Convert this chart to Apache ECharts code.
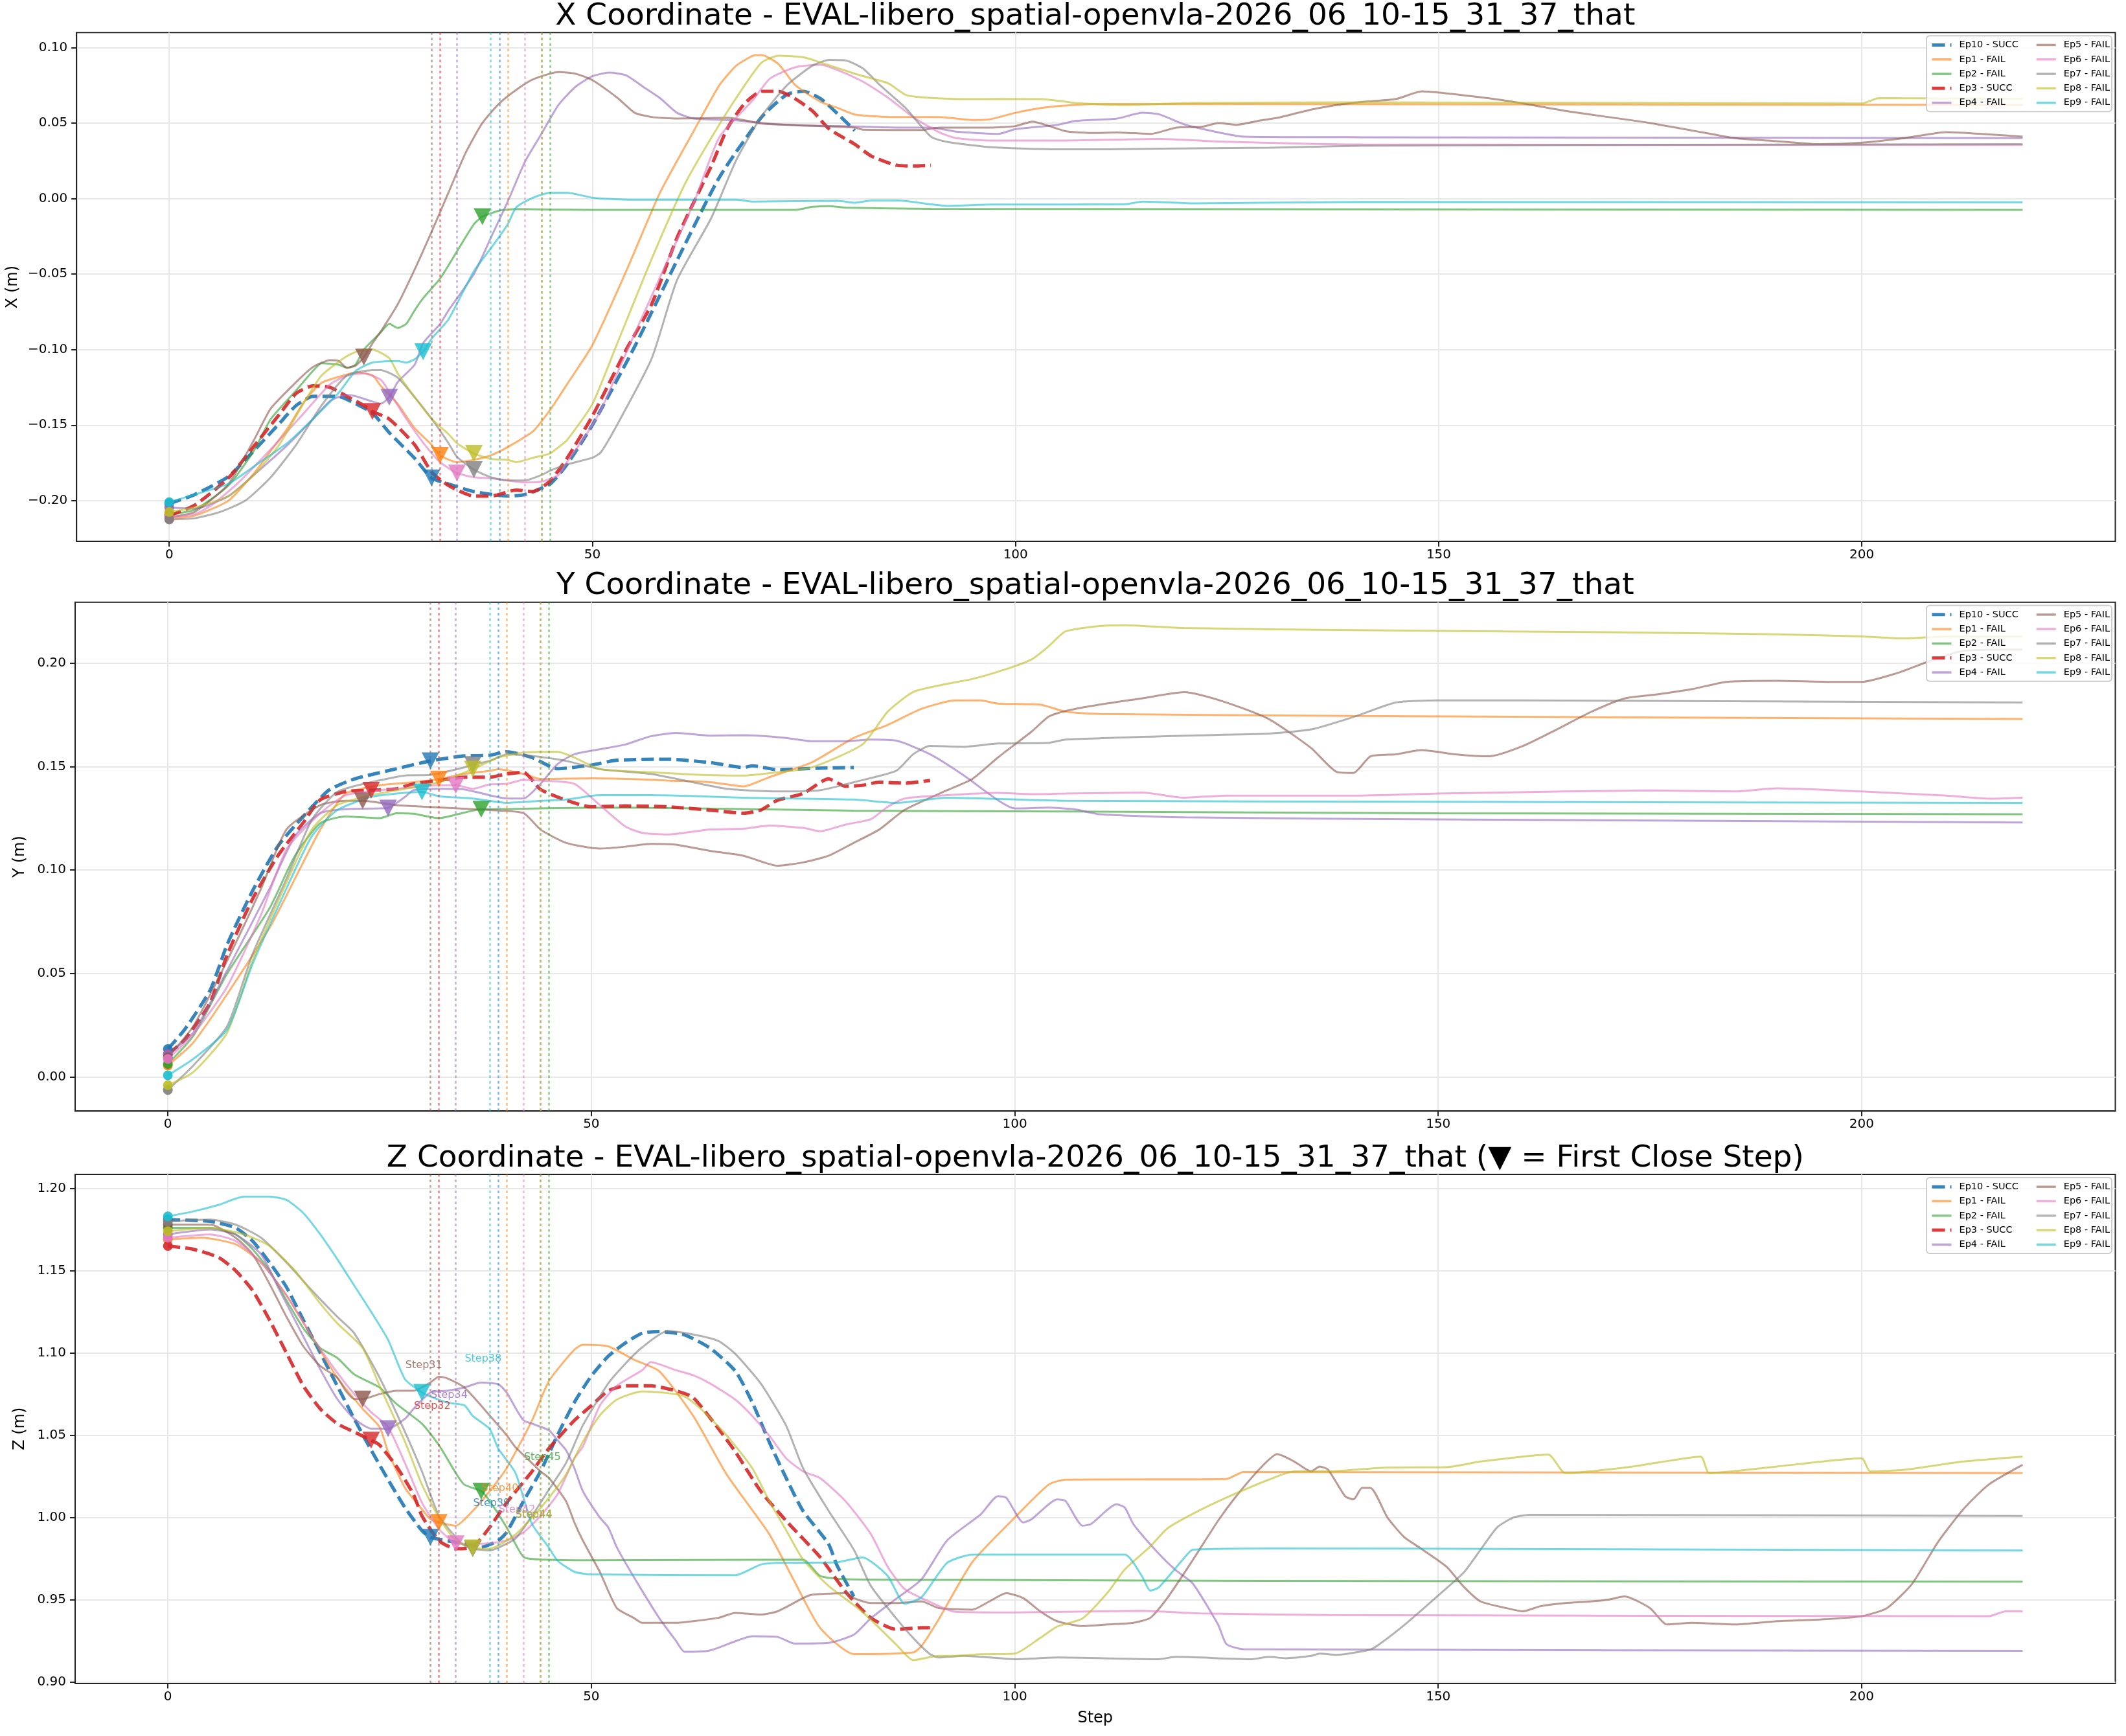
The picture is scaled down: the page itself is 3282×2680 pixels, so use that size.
<!DOCTYPE html>
<html><head><meta charset="utf-8">
<script src="https://cdn.jsdelivr.net/npm/echarts@6/dist/echarts.min.js"></script>
<style>html,body{margin:0;padding:0;background:#fff}#c{width:3282px;height:2680px}</style>
</head><body><div id="c"></div>
<script>
const FONT = 'DejaVu Sans';
const EPISODES = ['Ep10 - SUCC','Ep1 - FAIL','Ep2 - FAIL','Ep3 - SUCC','Ep4 - FAIL','Ep5 - FAIL','Ep6 - FAIL','Ep7 - FAIL','Ep8 - FAIL','Ep9 - FAIL'];
const COLORS = ['#1f77b4','#ff7f0e','#2ca02c','#d62728','#9467bd','#8c564b','#e377c2','#7f7f7f','#bcbd22','#17becf'];
const SUCCESS = [true,false,false,true,false,false,false,false,false,false];
const MARK_STEP = [31,32,37,24,26,23,34,36,36,30];
const CLOSE_STEP = [39,40,45,32,34,31,42,44,44,38];
const STEP_TICKS = [0,50,100,150,200];
const X_TICKS = [-0.20,-0.15,-0.10,-0.05,0.00,0.05,0.10];
const Y_TICKS = [0.00,0.05,0.10,0.15,0.20];
const Z_TICKS = [0.90,0.95,1.00,1.05,1.10,1.15,1.20];

// ---------- X coordinate ----------
const X_EP10 = [[0,-0.202],[3,-0.196],[7,-0.184],[10,-0.167],[13,-0.149],[15,-0.137],[17,-0.131],[20,-0.131],[21,-0.133],[24,-0.142],[26,-0.155],[29,-0.172],[31,-0.185],[33,-0.189],[36,-0.194],[40,-0.197],[42,-0.196],[45,-0.189],[47,-0.176],[50,-0.150],[55,-0.098],[60,-0.041],[65,0.014],[70,0.054],[73,0.069],[75,0.071],[77,0.066],[79,0.056],[81,0.045]];
const X_EP1 = [[0,-0.212],[3,-0.210],[7,-0.200],[10,-0.182],[12,-0.167],[14,-0.152],[16,-0.134],[18,-0.122],[21,-0.1165],[22,-0.115],[24,-0.117],[25,-0.124],[27,-0.136],[29,-0.152],[31,-0.163],[32,-0.170],[34,-0.1745],[36,-0.173],[38,-0.170],[40,-0.1645],[43,-0.154],[45,-0.140],[47,-0.123],[50,-0.097],[54,-0.048],[58,0.004],[62,0.045],[65,0.075],[67,0.088],[69,0.0946],[70,0.095],[72,0.089],[74,0.075],[77,0.064],[79,0.060],[81,0.0557],[85,0.054],[91,0.054],[95,0.052],[97,0.0525],[100,0.0568],[103,0.060],[107,0.062],[111,0.0626],[219,0.062]];
const X_EP2 = [[0,-0.209],[3,-0.206],[7,-0.190],[10,-0.167],[12,-0.146],[15,-0.127],[17,-0.114],[18,-0.109],[20,-0.110],[21,-0.112],[22,-0.110],[23,-0.100],[25,-0.0885],[26,-0.083],[27,-0.0857],[28,-0.083],[29,-0.074],[30,-0.066],[32,-0.053],[34,-0.035],[36,-0.017],[37,-0.012],[39,-0.008],[41,-0.007],[50,-0.0075],[74,-0.0075],[76,-0.0055],[78,-0.005],[80,-0.006],[90,-0.0068],[219,-0.0075]];
const X_EP3 = [[0,-0.210],[3,-0.203],[7,-0.185],[10,-0.164],[13,-0.143],[15,-0.129],[17,-0.124],[19,-0.125],[21,-0.131],[23,-0.137],[24,-0.141],[26,-0.146],[29,-0.163],[31,-0.181],[33,-0.190],[36,-0.197],[38,-0.197],[41,-0.193],[43,-0.194],[45,-0.187],[47,-0.172],[50,-0.144],[54,-0.100],[57,-0.070],[60,-0.026],[64,0.021],[66,0.047],[68,0.063],[70,0.071],[72,0.071],[74,0.066],[76,0.058],[78,0.046],[81,0.036],[83,0.028],[86,0.022],[88,0.0216],[90,0.022]];
const X_EP4 = [[0,-0.2046],[3,-0.2053],[7,-0.197],[10,-0.183],[14,-0.163],[17,-0.146],[19,-0.134],[21,-0.130],[22,-0.1308],[24,-0.1344],[25,-0.1358],[26,-0.1315],[27,-0.1215],[29,-0.110],[30,-0.0957],[32,-0.083],[33,-0.074],[36,-0.050],[38,-0.026],[40,-0.002],[42,0.024],[44,0.043],[46,0.062],[48,0.074],[50,0.081],[52,0.0834],[54,0.0816],[56,0.074],[58,0.0665],[60,0.0568],[62,0.053],[67,0.0518],[70,0.050],[74,0.0486],[79,0.048],[86,0.047],[90,0.047],[93,0.0443],[98,0.0428],[100,0.046],[105,0.0488],[107,0.0514],[112,0.053],[115,0.0568],[117,0.0557],[120,0.049],[124,0.0438],[127,0.041],[141,0.0406],[219,0.040]];
const X_EP5 = [[0,-0.211],[3,-0.2075],[7,-0.189],[10,-0.160],[12,-0.139],[15,-0.1215],[17,-0.1115],[19,-0.107],[20,-0.1075],[21,-0.112],[22,-0.1107],[23,-0.105],[24,-0.096],[25,-0.088],[27,-0.070],[29,-0.047],[31,-0.022],[33,0.004],[35,0.030],[37,0.050],[39,0.063],[41,0.072],[43,0.079],[46,0.0838],[48,0.0827],[50,0.0784],[53,0.0665],[55,0.0568],[57,0.054],[60,0.053],[66,0.0535],[68,0.0518],[70,0.0497],[74,0.0486],[81,0.047],[82,0.0456],[89,0.0454],[91,0.047],[97,0.047],[100,0.048],[102,0.051],[104,0.048],[106,0.0445],[109,0.0434],[112,0.0438],[116,0.0428],[119,0.047],[122,0.0475],[124,0.050],[126,0.0488],[129,0.0518],[131,0.0535],[135,0.059],[138,0.062],[141,0.064],[145,0.066],[148,0.071],[155,0.067],[160,0.063],[165,0.058],[170,0.054],[175,0.050],[180,0.045],[185,0.040],[190,0.038],[195,0.036],[200,0.037],[205,0.040],[210,0.044],[215,0.0425],[219,0.041]];
const X_EP6 = [[0,-0.211],[3,-0.209],[5,-0.203],[8,-0.189],[12,-0.166],[16,-0.1415],[19,-0.123],[21,-0.1172],[23,-0.1158],[25,-0.120],[26,-0.128],[28,-0.1458],[30,-0.1616],[32,-0.1745],[34,-0.1817],[36,-0.1845],[38,-0.1852],[40,-0.1867],[42,-0.188],[44,-0.1874],[46,-0.183],[47,-0.1745],[49,-0.1587],[51,-0.140],[54,-0.102],[58,-0.052],[62,-0.0026],[65,0.0406],[69,0.0654],[71,0.0795],[74,0.087],[77,0.0886],[79,0.085],[82,0.0773],[85,0.0665],[88,0.0535],[91,0.0438],[93,0.040],[97,0.0384],[105,0.0384],[117,0.0395],[124,0.0378],[141,0.0358],[219,0.0355]];
const X_EP7 = [[0,-0.2125],[3,-0.2117],[6,-0.2075],[9,-0.200],[12,-0.1845],[15,-0.163],[18,-0.137],[21,-0.1172],[24,-0.1136],[25,-0.1136],[27,-0.1186],[29,-0.1315],[31,-0.1458],[33,-0.162],[34,-0.171],[36,-0.1795],[38,-0.1845],[40,-0.1867],[42,-0.1867],[44,-0.183],[45,-0.1802],[47,-0.176],[50,-0.1716],[51,-0.168],[53,-0.149],[57,-0.106],[60,-0.054],[64,-0.0134],[67,0.0255],[70,0.0546],[73,0.075],[76,0.088],[78,0.0918],[80,0.0914],[82,0.086],[84,0.075],[87,0.060],[90,0.041],[92,0.0374],[95,0.0352],[97,0.034],[105,0.0326],[111,0.0326],[117,0.033],[130,0.0337],[141,0.035],[219,0.036]];
const X_EP8 = [[0,-0.2075],[3,-0.2046],[7,-0.197],[10,-0.183],[13,-0.163],[16,-0.1344],[18,-0.1172],[21,-0.1043],[23,-0.100],[24,-0.100],[26,-0.1057],[27,-0.1158],[29,-0.1315],[31,-0.1458],[33,-0.156],[34,-0.162],[36,-0.1688],[38,-0.1724],[40,-0.173],[41,-0.1745],[43,-0.1716],[45,-0.1688],[46,-0.1646],[47,-0.160],[50,-0.136],[53,-0.095],[57,-0.040],[61,0.0104],[65,0.049],[68,0.075],[70,0.090],[72,0.0946],[75,0.0935],[77,0.090],[81,0.0827],[83,0.0795],[85,0.0762],[87,0.0687],[89,0.067],[94,0.0658],[98,0.066],[103,0.0658],[105,0.0648],[107,0.0633],[113,0.062],[121,0.0633],[141,0.0637],[200,0.063],[202,0.0665],[219,0.066]];
const X_EP9 = [[0,-0.201],[3,-0.196],[7,-0.1888],[10,-0.1774],[14,-0.1616],[17,-0.1458],[20,-0.1287],[22,-0.1143],[24,-0.1086],[27,-0.1075],[28,-0.1086],[29,-0.1064],[30,-0.1014],[31,-0.0928],[33,-0.080],[36,-0.048],[38,-0.033],[40,-0.017],[41,-0.0058],[43,0.0006],[45,0.0039],[47,0.0039],[50,0.0006],[54,-0.0007],[67,-0.0007],[69,-0.002],[79,-0.0015],[81,-0.0028],[83,-0.0013],[86,-0.0013],[92,-0.0048],[97,-0.004],[113,-0.0037],[115,-0.002],[121,-0.0032],[141,-0.0022],[219,-0.0025]];

// ---------- Y coordinate ----------
const Y_EP10 = [[0,0.0135],[2,0.023],[5,0.042],[7,0.064],[10,0.090],[13,0.1116],[16,0.126],[19,0.1386],[22,0.144],[27,0.149],[31,0.1528],[35,0.1552],[38,0.1555],[40,0.1572],[43,0.1544],[46,0.149],[50,0.1508],[53,0.1531],[59,0.1536],[64,0.152],[68,0.1496],[69,0.1504],[72,0.1485],[77,0.1493],[81,0.1496]];
const Y_EP1 = [[0,0.0055],[3,0.0166],[7,0.040],[12,0.072],[15,0.0958],[18,0.1196],[21,0.137],[25,0.141],[29,0.1425],[32,0.144],[35,0.1465],[38,0.148],[39,0.1488],[42,0.1465],[44,0.144],[50,0.1444],[55,0.144],[59,0.1433],[64,0.1425],[68,0.1405],[71,0.1449],[76,0.152],[81,0.1639],[85,0.1702],[89,0.178],[93,0.182],[96,0.182],[98,0.1805],[103,0.180],[106,0.1766],[110,0.1755],[140,0.1745],[219,0.173]];
const Y_EP2 = [[0,0.0063],[3,0.0198],[7,0.050],[12,0.0815],[15,0.1069],[18,0.1227],[21,0.1259],[25,0.1251],[27,0.1275],[29,0.1272],[32,0.1251],[35,0.1278],[37,0.1294],[40,0.1295],[46,0.130],[54,0.1302],[68,0.1295],[81,0.1287],[106,0.1283],[150,0.1275],[219,0.127]];
const Y_EP3 = [[0,0.011],[2,0.018],[5,0.036],[7,0.059],[10,0.086],[13,0.107],[16,0.123],[18,0.134],[21,0.138],[24,0.1386],[27,0.1393],[29,0.1417],[32,0.1433],[35,0.1449],[38,0.1449],[40,0.1465],[42,0.1473],[44,0.139],[47,0.1338],[50,0.1306],[54,0.131],[59,0.1306],[64,0.129],[68,0.1275],[70,0.129],[72,0.1338],[75,0.137],[78,0.1441],[80,0.1405],[82,0.141],[84,0.1425],[87,0.142],[90,0.1433]];
const Y_EP4 = [[0,0.011],[3,0.0214],[7,0.0515],[12,0.091],[15,0.1164],[18,0.1275],[21,0.1295],[25,0.1298],[26,0.130],[28,0.1354],[29,0.1386],[32,0.1393],[35,0.139],[38,0.1362],[40,0.1346],[42,0.1346],[44,0.1417],[46,0.1512],[48,0.156],[51,0.1584],[54,0.1607],[57,0.1647],[60,0.1663],[64,0.165],[68,0.1652],[73,0.1639],[76,0.1623],[80,0.1623],[83,0.1631],[86,0.1626],[90,0.156],[94,0.1457],[98,0.1338],[100,0.1298],[104,0.1302],[107,0.1294],[110,0.127],[120,0.1255],[150,0.1245],[219,0.123]];
const Y_EP5 = [[0,0.0095],[3,0.0245],[7,0.0562],[11,0.091],[14,0.1196],[18,0.1314],[21,0.1335],[23,0.1335],[27,0.1314],[32,0.1303],[38,0.129],[42,0.1275],[44,0.1196],[47,0.1132],[51,0.1104],[54,0.1113],[57,0.1127],[60,0.1123],[64,0.1093],[68,0.1069],[72,0.1021],[75,0.1037],[78,0.1069],[81,0.1132],[84,0.1196],[87,0.1291],[92,0.1386],[95,0.1441],[98,0.1544],[102,0.167],[104,0.1742],[106,0.1769],[110,0.180],[115,0.183],[120,0.186],[125,0.181],[130,0.173],[135,0.159],[138,0.1475],[140,0.147],[142,0.155],[145,0.156],[148,0.158],[152,0.156],[156,0.155],[160,0.160],[164,0.168],[168,0.1764],[172,0.183],[176,0.185],[180,0.1875],[184,0.191],[190,0.1915],[196,0.191],[200,0.191],[204,0.195],[208,0.201],[212,0.206],[219,0.2066]];
const Y_EP6 = [[0,0.0087],[3,0.0206],[7,0.0436],[11,0.0784],[14,0.110],[18,0.1275],[21,0.1362],[25,0.1386],[29,0.140],[32,0.141],[34,0.141],[36,0.1393],[38,0.1414],[40,0.1417],[42,0.1436],[44,0.1433],[48,0.1417],[51,0.1314],[54,0.1211],[56,0.118],[59,0.1172],[64,0.1196],[68,0.120],[71,0.1215],[75,0.1204],[77,0.1188],[80,0.122],[83,0.1246],[85,0.1306],[87,0.1346],[92,0.1362],[98,0.1373],[102,0.1367],[106,0.137],[115,0.1375],[120,0.135],[125,0.136],[140,0.136],[150,0.137],[165,0.138],[175,0.1385],[185,0.138],[190,0.1395],[200,0.138],[210,0.136],[215,0.1345],[219,0.135]];
const Y_EP7 = [[0,-0.0063],[3,0.0055],[7,0.0245],[10,0.0594],[14,0.0958],[17,0.1243],[20,0.1378],[24,0.1425],[28,0.1457],[31,0.146],[35,0.1496],[36,0.151],[38,0.1528],[40,0.156],[43,0.1552],[47,0.1528],[51,0.1488],[57,0.1465],[61,0.1433],[66,0.1393],[72,0.138],[77,0.1386],[81,0.1425],[86,0.148],[88,0.156],[90,0.160],[94,0.1596],[98,0.1612],[104,0.1615],[106,0.1631],[120,0.165],[130,0.166],[135,0.168],[140,0.174],[145,0.181],[150,0.182],[160,0.182],[219,0.181]];
const Y_EP8 = [[0,-0.004],[3,0.0023],[7,0.0214],[10,0.0562],[14,0.094],[17,0.1196],[20,0.1314],[24,0.1362],[28,0.1393],[32,0.1425],[36,0.1488],[39,0.1544],[42,0.1568],[46,0.1572],[48,0.1544],[51,0.1488],[57,0.1473],[62,0.1462],[68,0.1457],[72,0.1473],[76,0.1496],[82,0.1607],[85,0.1766],[88,0.1861],[92,0.190],[95,0.1924],[99,0.1972],[102,0.2019],[104,0.2082],[106,0.2154],[110,0.218],[113,0.2184],[120,0.217],[140,0.216],[170,0.215],[190,0.214],[200,0.213],[205,0.212],[210,0.213],[219,0.213]];
const Y_EP9 = [[0,0.0008],[3,0.0087],[7,0.0229],[10,0.0546],[14,0.091],[17,0.1164],[20,0.129],[24,0.1354],[27,0.137],[30,0.1378],[32,0.1357],[36,0.1346],[40,0.1325],[44,0.1335],[47,0.1341],[51,0.1362],[57,0.1362],[68,0.135],[81,0.1341],[86,0.1325],[92,0.135],[106,0.1335],[150,0.133],[219,0.1325]];

// ---------- Z coordinate ----------
const Z_EP10 = [[0,1.181],[5,1.180],[8,1.176],[10,1.168],[12,1.155],[14,1.140],[16,1.120],[18,1.100],[20,1.080],[22,1.060],[24,1.041],[26,1.023],[28,1.006],[30,0.992],[31,0.988],[34,0.985],[37,0.982],[39,0.986],[40,0.991],[42,1.010],[44,1.028],[46,1.050],[48,1.070],[50,1.086],[52,1.098],[54,1.106],[56,1.112],[58,1.113],[61,1.111],[64,1.103],[67,1.089],[69,1.070],[71,1.046],[73,1.024],[75,1.004],[78,0.984],[79,0.971],[81,0.952]];
const Z_EP1 = [[0,1.169],[4,1.170],[8,1.166],[11,1.155],[14,1.135],[17,1.110],[20,1.085],[23,1.066],[25,1.055],[26,1.040],[28,1.018],[30,1.005],[31,0.999],[32,0.997],[34,0.995],[36,1.004],[38,1.016],[40,1.030],[43,1.059],[45,1.083],[48,1.102],[49,1.105],[52,1.104],[55,1.096],[58,1.089],[62,1.062],[66,1.026],[71,0.990],[74,0.961],[77,0.933],[81,0.917],[88,0.918],[89,0.922],[91,0.938],[95,0.973],[100,1.000],[104,1.020],[106,1.023],[125,1.0234],[127,1.0276],[219,1.027]];
const Z_EP2 = [[0,1.176],[5,1.176],[8,1.172],[10,1.163],[12,1.150],[14,1.132],[16,1.115],[18,1.103],[20,1.097],[22,1.087],[25,1.079],[27,1.069],[30,1.057],[32,1.044],[34,1.027],[35,1.020],[37,1.016],[38,1.010],[40,0.994],[42,0.976],[44,0.9745],[50,0.974],[75,0.9744],[77,0.9645],[80,0.9625],[100,0.962],[130,0.9615],[219,0.961]];
const Z_EP3 = [[0,1.165],[3,1.163],[6,1.158],[8,1.150],[10,1.138],[12,1.120],[14,1.100],[16,1.080],[18,1.066],[20,1.057],[22,1.052],[24,1.047],[25,1.044],[27,1.031],[29,1.014],[30,1.001],[32,0.986],[34,0.981],[36,0.982],[38,0.994],[40,1.009],[43,1.028],[45,1.042],[48,1.059],[50,1.068],[52,1.077],[54,1.080],[57,1.080],[60,1.077],[62,1.073],[65,1.054],[67,1.040],[70,1.016],[73,0.998],[77,0.976],[80,0.955],[83,0.939],[86,0.932],[89,0.933],[90,0.933]];
const Z_EP4 = [[0,1.172],[5,1.175],[8,1.172],[11,1.160],[13,1.140],[15,1.120],[18,1.090],[20,1.072],[22,1.060],[24,1.054],[26,1.054],[28,1.060],[29,1.066],[31,1.076],[33,1.077],[35,1.079],[37,1.082],[39,1.081],[40,1.076],[41,1.067],[42,1.059],[43,1.057],[45,1.053],[46,1.047],[47,1.041],[48,1.030],[49,1.016],[51,1.000],[52,0.994],[53,0.982],[55,0.964],[58,0.939],[60,0.925],[61,0.9184],[64,0.9192],[67,0.9248],[69,0.9278],[72,0.9274],[74,0.9234],[78,0.9238],[81,0.9288],[83,0.9387],[86,0.9506],[89,0.9625],[92,0.986],[96,1.002],[98,1.013],[99,1.012],[101,0.997],[102,0.999],[105,1.011],[106,1.010],[108,0.995],[109,0.996],[112,1.008],[113,1.006],[114,0.996],[117,0.978],[119,0.968],[121,0.960],[124,0.935],[125,0.923],[127,0.920],[219,0.919]];
const Z_EP5 = [[0,1.178],[5,1.178],[8,1.170],[10,1.160],[12,1.142],[14,1.122],[16,1.104],[18,1.092],[20,1.085],[21,1.077],[22,1.072],[23,1.072],[25,1.075],[27,1.077],[29,1.077],[31,1.082],[32,1.0856],[33,1.0846],[35,1.079],[38,1.062],[40,1.050],[41,1.043],[43,1.033],[44,1.028],[45,1.024],[47,1.010],[48,0.997],[49,0.986],[51,0.967],[53,0.945],[55,0.939],[56,0.936],[60,0.936],[62,0.937],[65,0.939],[67,0.942],[70,0.941],[72,0.943],[75,0.951],[76,0.953],[80,0.954],[81,0.951],[83,0.948],[86,0.948],[89,0.949],[91,0.945],[95,0.944],[97,0.949],[99,0.954],[101,0.951],[103,0.943],[105,0.937],[108,0.934],[111,0.935],[114,0.936],[116,0.939],[118,0.951],[121,0.974],[124,0.998],[126,1.012],[129,1.030],[131,1.0385],[133,1.034],[135,1.028],[136,1.031],[137,1.029],[139,1.013],[140,1.011],[141,1.018],[142,1.018],[144,1.000],[146,0.988],[148,0.981],[151,0.970],[153,0.958],[155,0.949],[158,0.945],[160,0.943],[162,0.946],[165,0.948],[168,0.949],[170,0.950],[172,0.952],[175,0.945],[177,0.935],[180,0.936],[185,0.935],[190,0.937],[195,0.938],[200,0.940],[203,0.945],[206,0.960],[209,0.985],[212,1.005],[215,1.020],[219,1.032]];
const Z_EP6 = [[0,1.170],[5,1.172],[8,1.168],[11,1.155],[14,1.135],[17,1.110],[20,1.088],[22,1.075],[24,1.064],[26,1.055],[28,1.033],[30,1.009],[32,0.993],[33,0.988],[34,0.984],[37,0.984],[40,0.986],[42,0.991],[44,1.001],[46,1.014],[48,1.036],[49,1.043],[51,1.068],[53,1.080],[56,1.0895],[57,1.0944],[60,1.0895],[62,1.0865],[64,1.0815],[67,1.0716],[69,1.0617],[71,1.0498],[73,1.036],[75,1.028],[77,1.024],[80,1.010],[83,0.990],[85,0.970],[87,0.9565],[90,0.9486],[93,0.9427],[100,0.9423],[115,0.9433],[122,0.9417],[137,0.9407],[215,0.940],[217,0.943],[219,0.943]];
const Z_EP7 = [[0,1.180],[5,1.181],[8,1.178],[11,1.170],[14,1.155],[17,1.138],[20,1.122],[22,1.112],[25,1.085],[28,1.052],[30,1.028],[32,1.001],[34,0.988],[35,0.983],[36,0.981],[38,0.980],[39,0.9816],[41,0.987],[43,1.001],[45,1.017],[47,1.033],[49,1.056],[52,1.0815],[54,1.0934],[56,1.1034],[59,1.1133],[62,1.1113],[65,1.1073],[67,1.0994],[70,1.0815],[73,1.0558],[75,1.030],[78,1.0042],[81,0.9804],[83,0.9585],[86,0.9387],[88,0.9268],[90,0.9169],[91,0.9149],[94,0.9159],[100,0.9139],[105,0.9149],[117,0.9139],[119,0.9153],[128,0.9139],[130,0.9153],[132,0.9145],[135,0.9159],[136,0.9173],[138,0.9165],[142,0.9198],[143,0.9228],[146,0.9347],[150,0.9526],[153,0.9665],[155,0.9804],[157,0.9942],[159,1.0002],[161,1.0016],[219,1.001]];
const Z_EP8 = [[0,1.174],[5,1.176],[9,1.172],[12,1.165],[15,1.150],[18,1.130],[20,1.118],[23,1.103],[25,1.080],[28,1.046],[30,1.020],[32,1.000],[34,0.986],[36,0.9816],[38,0.981],[39,0.983],[41,0.9895],[43,1.000],[45,1.012],[47,1.026],[49,1.046],[51,1.062],[53,1.0716],[56,1.0766],[59,1.0756],[61,1.0736],[63,1.0657],[66,1.0498],[69,1.030],[71,1.0101],[73,0.9923],[75,0.9744],[78,0.9585],[82,0.9427],[86,0.9228],[88,0.9133],[91,0.9159],[93,0.9159],[96,0.9169],[100,0.9173],[103,0.9268],[105,0.9337],[108,0.9387],[111,0.9546],[113,0.9685],[116,0.9824],[118,0.9933],[121,1.0022],[125,1.0121],[130,1.023],[133,1.028],[137,1.028],[140,1.029],[144,1.0304],[151,1.0306],[155,1.034],[163,1.0383],[165,1.027],[173,1.031],[181,1.037],[182,1.027],[190,1.031],[200,1.036],[201,1.028],[205,1.029],[212,1.034],[219,1.037]];
const Z_EP9 = [[0,1.183],[3,1.186],[6,1.190],[9,1.195],[12,1.195],[14,1.193],[16,1.185],[18,1.172],[20,1.157],[22,1.141],[24,1.125],[26,1.108],[28,1.084],[30,1.076],[31,1.0735],[33,1.0698],[35,1.0682],[36,1.0617],[38,1.0538],[39,1.042],[41,1.0276],[42,1.0118],[43,0.996],[45,0.9816],[46,0.9738],[48,0.967],[50,0.9654],[67,0.9649],[70,0.9714],[72,0.9724],[79,0.9728],[82,0.9758],[85,0.9645],[87,0.9476],[89,0.9516],[92,0.9724],[95,0.9774],[113,0.9774],[115,0.9645],[116,0.9556],[117,0.9575],[120,0.9754],[121,0.9804],[130,0.9812],[164,0.9808],[219,0.980]];

const X_DATA = [X_EP10,X_EP1,X_EP2,X_EP3,X_EP4,X_EP5,X_EP6,X_EP7,X_EP8,X_EP9];
const Y_DATA = [Y_EP10,Y_EP1,Y_EP2,Y_EP3,Y_EP4,Y_EP5,Y_EP6,Y_EP7,Y_EP8,Y_EP9];
const Z_DATA = [Z_EP10,Z_EP1,Z_EP2,Z_EP3,Z_EP4,Z_EP5,Z_EP6,Z_EP7,Z_EP8,Z_EP9];

const RUN = 'EVAL-libero_spatial-openvla-2026_06_10-15_31_37_that';
const PANELS = [
  {data:X_DATA, ticks:X_TICKS, min:-0.2270, max:0.1099, name:'X (m)', title:'X Coordinate - ' + RUN, top:50.3},
  {data:Y_DATA, ticks:Y_TICKS, min:-0.0165, max:0.2295, name:'Y (m)', title:'Y Coordinate - ' + RUN, top:929.7},
  {data:Z_DATA, ticks:Z_TICKS, min:0.8993, max:1.2085, name:'Z (m)', title:'Z Coordinate - ' + RUN + ' (\u25BC = First Close Step)', top:1813}
];
const GL = 116, GW = 3149.5, GH = 785.5;

function valAt(arr, s) {
  let best = arr[0];
  for (const p of arr) if (Math.abs(p[0]-s) < Math.abs(best[0]-s)) best = p;
  return best[1];
}
function hexA(hex, a) {
  const n = parseInt(hex.slice(1),16);
  return 'rgba(' + (n>>16) + ',' + ((n>>8)&255) + ',' + (n&255) + ',' + a + ')';
}
const fmt = v => (Math.abs(v) < 1e-9 ? 0 : v).toFixed(2).replace('-', '\u2212');

const grid = [], xAxis = [], yAxis = [], series = [], title = [], legend = [], graphic = [];
PANELS.forEach((P, p) => {
  grid.push({left:GL, top:P.top, width:GW, height:GH, show:true, borderColor:'#222', borderWidth:2, backgroundColor:'#fff'});
  xAxis.push({type:'value', gridIndex:p, min:-10.95, max:229.95,
    axisLine:{onZero:false, lineStyle:{color:'#222', width:2}},
    axisTick:{customValues:STEP_TICKS, length:8, lineStyle:{color:'#222', width:2}},
    axisLabel:{customValues:STEP_TICKS, fontSize:20, color:'#000', fontFamily:FONT, margin:11},
    splitLine:{show:true, lineStyle:{color:'#e8e8e8', width:2}},
    name: p === 2 ? 'Step' : '', nameLocation:'middle', nameGap:42,
    nameTextStyle:{fontSize:24, color:'#000', fontFamily:FONT}});
  yAxis.push({type:'value', gridIndex:p, min:P.min, max:P.max,
    axisLine:{onZero:false, lineStyle:{color:'#222', width:2}},
    axisTick:{customValues:P.ticks, length:8, lineStyle:{color:'#222', width:2}},
    axisLabel:{customValues:P.ticks, formatter:fmt, fontSize:20, color:'#000', fontFamily:FONT, margin:14},
    splitLine:{show:true, lineStyle:{color:'#e8e8e8', width:2}},
    name:P.name, nameLocation:'middle', nameRotate:90, nameGap:73,
    nameTextStyle:{fontSize:24, color:'#000', fontFamily:FONT}});
  title.push({text:P.title, left:GL + GW/2, top:P.top - 48, textAlign:'center', padding:0,
    textStyle:{fontSize:47, fontWeight:'normal', color:'#000', fontFamily:FONT}});

  EPISODES.forEach((name, i) => {
    const s = SUCCESS[i];
    series.push({type:'line', name, xAxisIndex:p, yAxisIndex:p, data:P.data[i],
      symbol:'none', showSymbol:false, smooth:0.2, z:2,
      itemStyle:{color:COLORS[i]},
      lineStyle:{color:COLORS[i], width: s ? 5.2 : 3, type: s ? [19, 8] : 'solid', opacity: s ? 0.9 : 0.6},
      markLine:{silent:true, symbol:['none','none'], label:{show:false}, animation:false,
        lineStyle:{color:COLORS[i], type:[4, 4.5], width:2.5, opacity:0.55},
        emphasis:{disabled:true}, data:[{xAxis:CLOSE_STEP[i]}]}});
  });
  // start circles
  series.push({type:'scatter', xAxisIndex:p, yAxisIndex:p, symbol:'circle', symbolSize:15, z:4, silent:true,
    data: EPISODES.map((n, i) => ({value:[P.data[i][0][0], P.data[i][0][1]], itemStyle:{color:COLORS[i], opacity:0.9}}))});
  // first-close markers
  series.push({type:'scatter', xAxisIndex:p, yAxisIndex:p, symbol:'triangle', symbolRotate:180, symbolSize:[27,26], z:5, silent:true,
    data: EPISODES.map((n, i) => ({value:[MARK_STEP[i], valAt(P.data[i], MARK_STEP[i])], itemStyle:{color:COLORS[i]}}))});
  if (p === 2) {
    series.push({type:'scatter', xAxisIndex:p, yAxisIndex:p, symbol:'circle', symbolSize:1, z:6, silent:true,
      itemStyle:{color:'rgba(0,0,0,0)'},
      data: EPISODES.map((n, i) => ({value:[MARK_STEP[i], valAt(P.data[i], MARK_STEP[i])],
        label:{show:true, formatter:'Step' + CLOSE_STEP[i], position:'inside', align:'left', verticalAlign:'bottom',
          offset:[66, -44], color:COLORS[i], fontSize:16, fontFamily:FONT}}))});
  }
  // legends
  const mkItems = idx => idx.map(i => ({name:EPISODES[i],
    itemStyle:{color:'rgba(0,0,0,0)', borderWidth:0, opacity:0},
    lineStyle:{color:hexA(COLORS[i], SUCCESS[i] ? 0.9 : 0.6), width: SUCCESS[i] ? 5 : 3.5, type: SUCCESS[i] ? [20, 8] : 'solid', opacity:1}}));
  const common = {orient:'vertical', top:P.top + 8, itemWidth:30, itemHeight:10, itemGap:0, padding:0, selectedMode:false, z:7,
    textStyle:{fontSize:14.5, color:'#000', fontFamily:FONT, lineHeight:22.3, padding:[0,0,0,7]}};
  legend.push(Object.assign({}, common, {left:2980, data:mkItems([0,1,2,3,4])}));
  legend.push(Object.assign({}, common, {left:3142, data:mkItems([5,6,7,8,9])}));
  graphic.push({type:'rect', z:6, silent:true, shape:{x:2974, y:P.top + 5, width:286, height:117, r:5},
    style:{fill:'rgba(255,255,255,0.8)', stroke:'#cccccc', lineWidth:2}});
});

const chart = echarts.init(document.getElementById('c'), null, {renderer:'canvas', width:3282, height:2680});
chart.setOption({backgroundColor:'#fff', animation:false, grid, xAxis, yAxis, title, legend, graphic, series});
</script></body></html>
